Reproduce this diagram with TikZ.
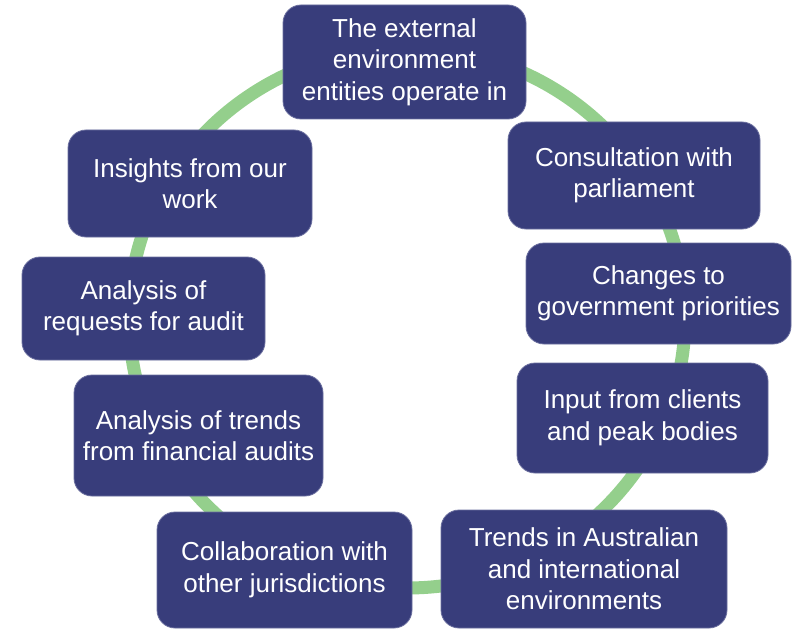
\documentclass[tikz,border=0pt]{standalone}
\usepackage{fontspec}
\setmainfont{Liberation Sans}
\definecolor{boxfill}{HTML}{383D7B}
\definecolor{boxedge}{HTML}{6A6E9E}
\definecolor{ring}{HTML}{94CF8C}
\begin{document}
\begin{tikzpicture}[x=1pt,y=-1pt,
  stagebox/.style={rectangle, rounded corners=18pt, fill=boxfill, draw=boxedge, line width=0.8pt,
    text=white, align=center, inner sep=0pt,
    font=\fontsize{26}{31.5}\selectfont},
  ringline/.style={draw=ring, line width=13pt}]
\useasboundingbox (0,0) rectangle (800,631);
\draw[ringline] (407,318) ellipse [x radius=278, y radius=270];
\node[stagebox, minimum width=243pt, minimum height=114pt] (ext) at (404.5,62) {The external\\environment\\entities operate in};
\node[stagebox, minimum width=252pt, minimum height=107pt] (cons) at (634,175.5) {Consultation with\\parliament};
\node[stagebox, minimum width=265pt, minimum height=101pt] (chg) at (658.5,293.5) {Changes to\\government priorities};
\node[stagebox, minimum width=251pt, minimum height=110pt] (inp) at (642.5,418) {Input from clients\\and peak bodies};
\node[stagebox, minimum width=286pt, minimum height=118pt] (traus) at (584,569) {Trends in Australian\\and international\\environments};
\node[stagebox, minimum width=255pt, minimum height=116pt] (collab) at (284.5,570) {Collaboration with\\other jurisdictions};
\node[stagebox, minimum width=249pt, minimum height=121pt] (trfin) at (198.5,435.5) {Analysis of trends\\from financial audits};
\node[stagebox, minimum width=243pt, minimum height=103pt] (req) at (143.5,308.5) {Analysis of\\requests for audit};
\node[stagebox, minimum width=244pt, minimum height=107pt] (ins) at (190,183.5) {Insights from our\\work};
\end{tikzpicture}
\end{document}
